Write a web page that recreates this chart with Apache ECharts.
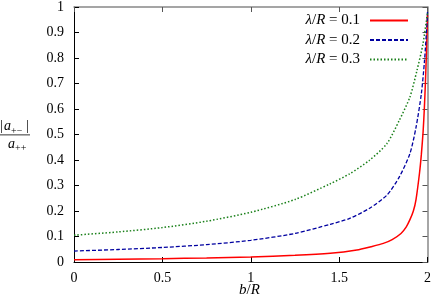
<!DOCTYPE html>
<html><head><meta charset="utf-8">
<script src="https://cdn.jsdelivr.net/npm/echarts@6/dist/echarts.min.js"></script>
<style>html,body{margin:0;padding:0;background:#fff}#c{width:434px;height:304px}</style>
</head><body><div id="c"></div>
<script>
const seriesNames = ['λ/R = 0.1', 'λ/R = 0.2', 'λ/R = 0.3'];
const redX = [0, 0.25, 0.5, 0.75, 1, 1.25, 1.45, 1.6, 1.68, 1.75, 1.8, 1.85, 1.88, 1.9, 1.92, 1.935, 1.955, 1.965, 1.975, 1.982, 1.988, 1.993, 1.997, 2];
const redY = [0.009, 0.011, 0.013, 0.016, 0.02, 0.026, 0.034, 0.047, 0.06, 0.073, 0.088, 0.112, 0.138, 0.165, 0.2, 0.245, 0.35, 0.42, 0.51, 0.6, 0.7, 0.8, 0.89, 0.97];
const blueX = [0, 0.25, 0.5, 0.75, 1, 1.25, 1.45, 1.56, 1.67, 1.77, 1.84, 1.9, 1.935, 1.965, 1.983, 1.998, 2];
const blueY = [0.043, 0.049, 0.057, 0.068, 0.085, 0.112, 0.148, 0.171, 0.21, 0.262, 0.333, 0.424, 0.528, 0.659, 0.789, 0.945, 0.98];
const greenX = [0, 0.25, 0.5, 0.75, 1, 1.25, 1.45, 1.56, 1.67, 1.77, 1.84, 1.9, 1.94, 1.974, 2];
const greenY = [0.105, 0.118, 0.135, 0.16, 0.195, 0.245, 0.307, 0.346, 0.398, 0.464, 0.555, 0.646, 0.75, 0.854, 0.978];

const pairs = (xs, ys) => xs.map((x, i) => [x, ys[i]]);
const FF = 'Liberation Serif';
const chart = echarts.init(document.getElementById('c'), null, {renderer: 'canvas'});
const legendRich = {
  i: {fontFamily: FF, fontStyle: 'italic', fontSize: 15, color: '#000'},
  n: {fontFamily: FF, fontSize: 15, color: '#000'}
};
function mkSeries(name, xs, ys, color, type, width) {
  return {
    name, type: 'line', data: pairs(xs, ys), xAxisIndex: 0, yAxisIndex: 0,
    showSymbol: false, symbol: 'none', smooth: 0.25,
    lineStyle: {color, width, type}, itemStyle: {color}, animation: false, z: 3
  };
}
chart.setOption({
  animation: false,
  grid: {left: 74, right: 5, top: 6, bottom: 42, containLabel: false},
  xAxis: [
    {type: 'value', min: 0, max: 2, interval: 0.5, position: 'bottom',
     axisLine: {onZero: false, lineStyle: {color: '#000', width: 1}},
     axisTick: {inside: true, length: 5, lineStyle: {color: '#000'}},
     axisLabel: {margin: 9, fontFamily: FF, fontSize: 14, color: '#000'},
     splitLine: {show: false}},
    {type: 'value', min: 0, max: 2, interval: 0.5, position: 'top',
     axisLine: {show: true, onZero: false, lineStyle: {color: '#888', width: 1.5}},
     axisTick: {show: true, inside: true, length: 5, lineStyle: {color: '#555'}},
     axisLabel: {show: false}, splitLine: {show: false}}
  ],
  yAxis: [
    {type: 'value', min: 0, max: 1, interval: 0.1, position: 'left',
     axisLine: {show: true, onZero: false, lineStyle: {color: '#000', width: 1}},
     axisTick: {show: true, inside: true, length: 5, lineStyle: {color: '#000'}},
     axisLabel: {margin: 10, fontFamily: FF, fontSize: 14, color: '#000'},
     splitLine: {show: false}},
    {type: 'value', min: 0, max: 1, interval: 0.1, position: 'right',
     axisLine: {show: true, onZero: false, lineStyle: {color: '#888', width: 1.5}},
     axisTick: {show: true, inside: true, length: 5, lineStyle: {color: '#555'}},
     axisLabel: {show: false}, splitLine: {show: false}}
  ],
  legend: {
    orient: 'vertical', right: 20, top: 8, align: 'right',
    itemWidth: 38, itemHeight: 10, itemGap: 4.5,
    data: seriesNames,
    itemStyle: {opacity: 0},
    formatter: n => '{i|λ}{n|/}{i|R}{n| = ' + n.split('= ')[1] + '}',
    textStyle: {rich: legendRich, padding: [0, 5, 0, 0]},
    selectedMode: false
  },
  series: [
    mkSeries(seriesNames[0], redX, redY, '#ff0000', 'solid', 1.5),
    mkSeries(seriesNames[1], blueX, blueY, '#0000a0', [4, 2], 1.3),
    mkSeries(seriesNames[2], greenX, greenY, '#1a801a', [1.5, 2], 1.5)
  ],
  graphic: [
    {type: 'text', left: 239, top: 283, style: {text: '{i|b}{n|/}{i|R}', rich: legendRich}},
    {type: 'text', left: 0, top: 119, style: {text: '|', font: '14px "Liberation Serif"', fill: '#000'}},
    {type: 'text', left: 4, top: 119, style: {text: 'a', font: 'italic 14px "Liberation Serif"', fill: '#000'}},
    {type: 'text', left: 11, top: 126, style: {text: '+−', font: '10px "Liberation Serif"', fill: '#000'}},
    {type: 'text', left: 26, top: 119, style: {text: '|', font: '14px "Liberation Serif"', fill: '#000'}},
    {type: 'rect', shape: {x: 0, y: 134.5, width: 30, height: 0.8}, style: {fill: '#000'}},
    {type: 'text', left: 8, top: 137, style: {text: 'a', font: 'italic 14px "Liberation Serif"', fill: '#000'}},
    {type: 'text', left: 15, top: 143, style: {text: '++', font: '10px "Liberation Serif"', fill: '#000'}}
  ]
});
</script></body></html>
